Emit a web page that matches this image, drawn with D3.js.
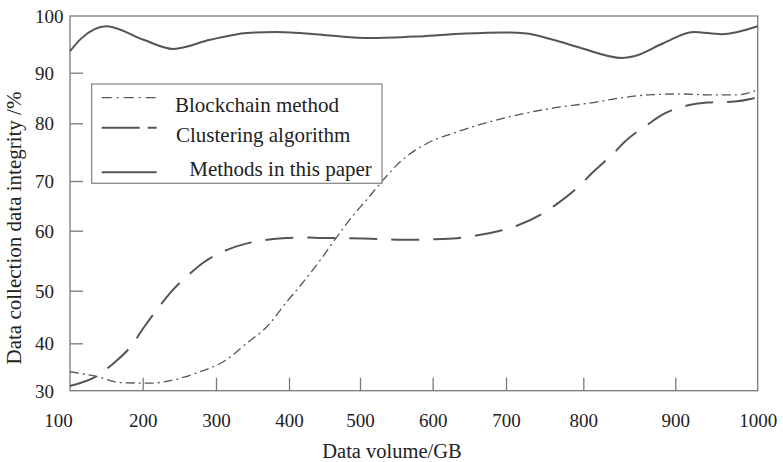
<!DOCTYPE html>
<html><head><meta charset="utf-8">
<script src="https://cdn.jsdelivr.net/npm/d3@7"></script>
<style>body{margin:0;background:#fff}svg{display:block}text{font-family:"Liberation Serif","Times New Roman",serif;fill:#222}</style>
</head><body><svg id="c" width="783" height="462"></svg>
<script>
// ---- data ----
const xTicks = [100,200,300,400,500,600,700,800,900,1000];
const yTicks = [30,40,50,60,70,80,90,100];
const seriesNames = ["Blockchain method","Clustering algorithm","Methods in this paper"];

const blockchainX = [100,137,169,211,243,278,310,342,370,397,415,444,467,491,509,532,555,592,633,678,735,761,811,840,869,906,946,974,1000];
const blockchainY = [34.0,33.0,31.7,31.6,32.3,34.0,36.1,40.0,43.2,47.9,50.7,55.1,58.9,63.2,66.2,70.2,73.3,76.5,78.5,80.3,82.3,83.0,84.1,85.0,85.6,85.8,85.6,85.6,86.6];

const clusteringX = [100,137,160,185,201,221,237,265,283,315,340,379,401,416,441,462,528,569,628,655,692,714,748,766,796,809,833,845,871,885,917,939,972,991,1000];
const clusteringY = [31.0,33.1,35.8,39.6,42.9,46.7,49.5,52.9,54.7,56.8,57.8,58.6,58.8,58.9,58.8,58.8,58.6,58.5,58.7,59.1,60.0,61.0,63.5,65.4,69.2,71.3,74.8,76.8,79.9,81.6,83.6,84.1,84.3,84.8,85.2];

const methodsX = [100,116,150,201,242,292,342,383,453,514,582,644,696,727,761,796,842,855,887,922,956,1000];
const methodsY = [93.8,96.1,98.2,95.8,94.2,95.8,97.0,97.2,96.6,96.1,96.4,96.9,97.1,96.9,95.8,94.4,92.6,92.9,95.2,97.2,96.8,98.2];

// ---- layout ----
const svg = d3.select("#c");
const L = 70, R = 757.7, T = 16, B = 390.7;
// the original figure's axes are hand-spaced; piecewise scales follow its tick positions
const x = d3.scaleLinear().domain(xTicks)
  .range([L,142.7,216,289,360,432.7,506,583.3,675.3,R]);
const y = d3.scaleLinear().domain(yTicks)
  .range([B,343.3,290.7,230.7,181,123.3,72.7,T]);

const axisColor = "#7a7a7a", lineColor = "#555";

// frame
svg.append("rect").attr("x",L).attr("y",T).attr("width",R-L).attr("height",B-T)
  .attr("fill","none").attr("stroke",axisColor).attr("stroke-width",1.3);

// x axis
const gx = svg.append("g").attr("transform",`translate(0,${B})`)
  .call(d3.axisBottom(x).tickValues(xTicks).tickSize(-13).tickSizeOuter(0).tickFormat(d3.format("d")));
gx.select(".domain").remove();
gx.selectAll(".tick line").attr("stroke",axisColor).attr("stroke-width",1.3);
gx.selectAll(".tick text").attr("y",36).attr("dy",0).attr("font-size",19)
  .attr("font-family","Liberation Serif").attr("fill","#222")
  .attr("dx",(d,i)=> i===0 ? -12 : 0);
gx.selectAll(".tick").filter(d=>d===100||d===1000).select("line").remove();

// y axis
const gy = svg.append("g").attr("transform",`translate(${L},0)`)
  .call(d3.axisRight(y).tickValues(yTicks).tickSize(13).tickSizeOuter(0).tickFormat(d3.format("d")));
gy.select(".domain").remove();
gy.selectAll(".tick line").attr("stroke",axisColor).attr("stroke-width",1.3);
gy.selectAll(".tick").filter(d=>d===30||d===100).select("line").remove();
gy.selectAll(".tick text").attr("x",-35).attr("dy","0.34em").attr("text-anchor","start")
  .attr("font-size",19).attr("font-family","Liberation Serif").attr("fill","#222");

// axis titles
svg.append("text").attr("x",392).attr("y",458).attr("text-anchor","middle")
  .attr("font-size",20.5).text("Data volume/GB");
svg.append("text").attr("transform","translate(21,228) rotate(-90)").attr("text-anchor","middle")
  .attr("font-size",21).text("Data collection data integrity /%");

// lines
const line = d3.line().x(d=>x(d[0])).y(d=>y(d[1])).curve(d3.curveMonotoneX);
const styles = [
  {dash:"9,4,2,4", w:1.3},
  {dash:"28,14", w:2},
  {dash:null, w:2}
];
const series = [
  d3.zip(blockchainX, blockchainY),
  d3.zip(clusteringX, clusteringY),
  d3.zip(methodsX, methodsY)
];
series.forEach((s,i)=>{
  svg.append("path").datum(s).attr("d",line).attr("fill","none")
    .attr("stroke",lineColor).attr("stroke-width",styles[i].w)
    .attr("stroke-dasharray",styles[i].dash);
});

// legend
const lg = svg.append("g");
lg.append("rect").attr("x",91.7).attr("y",84).attr("width",290.3).attr("height",99.3)
  .attr("fill","#fff").attr("stroke","#8a8a8a").attr("stroke-width",1.3);
const legendLineY = [97.7,127.7,172.3];
const legendTextX = [175,176,189.3];
const legendTextY = [111.5,141.7,176];
const legendDash = ["10,5,2,5","38,8",null];
seriesNames.forEach((n,i)=>{
  lg.append("line").attr("x1",101.7).attr("x2",156.7).attr("y1",legendLineY[i]).attr("y2",legendLineY[i])
    .attr("stroke",lineColor).attr("stroke-width",styles[i].w).attr("stroke-dasharray",legendDash[i]);
  lg.append("text").attr("x",legendTextX[i]).attr("y",legendTextY[i]).attr("font-size",21).text(n);
});
</script></body></html>
